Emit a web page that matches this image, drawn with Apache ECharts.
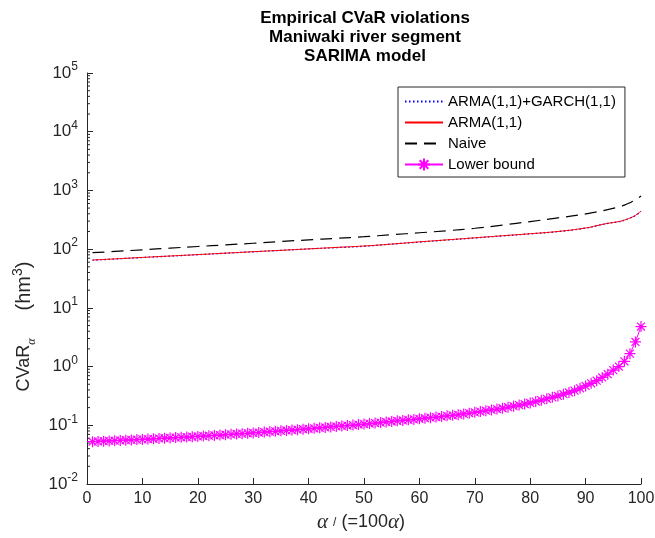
<!DOCTYPE html>
<html>
<head>
<meta charset="utf-8">
<script src="https://cdn.jsdelivr.net/npm/echarts@6/dist/echarts.min.js"></script>
<style>
html, body { margin: 0; padding: 0; background: #fff; }
#chart { width: 655px; height: 538px; }
</style>
</head>
<body>
<div id="chart"></div>
<script>
// alpha' = 100*alpha, one marker per step for the lower bound
const alphaLB = Array.from({length: 100}, (_, i) => i + 1)
const lowerBound = [
  0.0525, 0.0530, 0.0536, 0.0541, 0.0547, 0.0552, 0.0558, 0.0564, 0.0570, 0.0575,
  0.0582, 0.0589, 0.0596, 0.0603, 0.0610, 0.0617, 0.0624, 0.0631, 0.0638, 0.0646,
  0.0655, 0.0664, 0.0673, 0.0682, 0.0692, 0.0701, 0.0711, 0.0721, 0.0731, 0.0741,
  0.0753, 0.0766, 0.0778, 0.0791, 0.0804, 0.0817, 0.0830, 0.0843, 0.0857, 0.0871,
  0.0887, 0.0904, 0.0920, 0.0938, 0.0955, 0.0973, 0.0991, 0.101, 0.103, 0.105,
  0.107, 0.109, 0.111, 0.114, 0.116, 0.119, 0.121, 0.124, 0.126, 0.129,
  0.132, 0.135, 0.138, 0.141, 0.145, 0.148, 0.151, 0.156, 0.161, 0.166,
  0.171, 0.177, 0.183, 0.189, 0.195, 0.203, 0.212, 0.221, 0.230, 0.240,
  0.254, 0.268, 0.283, 0.299, 0.316, 0.339, 0.363, 0.389, 0.427, 0.468,
  0.519, 0.575, 0.653, 0.741, 0.871, 1.00, 1.23, 1.66, 2.63, 4.80
]

// smooth curves, read at these alpha' values
const alphaCurve = [1, 5, 10, 15, 20, 25, 30, 35, 40, 45, 50, 55, 60, 65, 70, 75, 80, 85, 90, 92, 94, 96, 97, 98, 99, 100]
const armaGarch = [64.8, 67.9, 72.0, 76.1, 80.5, 85.2, 90.1, 95.3, 101, 106, 112, 122, 132, 143, 155, 168, 182, 199, 228, 250, 274, 294, 312, 338, 374, 440]
const arma = [65.3, 68.2, 72.3, 76.4, 80.7, 85.5, 90.4, 95.5, 101, 107, 113, 122, 133, 144, 156, 169, 183, 200, 229, 251, 275, 295, 313, 339, 376, 447]
const naive = [86.9, 91.4, 97.5, 104, 111, 118, 126, 135, 144, 153, 163, 176, 190, 206, 227, 257, 295, 340, 398, 432, 470, 525, 562, 617, 692, 803]

const seriesNames = ['ARMA(1,1)+GARCH(1,1)', 'ARMA(1,1)', 'Naive', 'Lower bound']

const pair = (xs, ys) => xs.map((x, i) => [x, ys[i]])
const axisColor = '#262626'
const starPath = 'path://M0,-1L0,1M-1,0L1,0M-0.72,-0.72L0.72,0.72M-0.72,0.72L0.72,-0.72'

const chart = echarts.init(document.getElementById('chart'))
chart.setOption({
  backgroundColor: '#fff',
  animation: false,
  textStyle: { fontFamily: 'Liberation Sans, Arial, sans-serif' },
  title: {
    text: 'Empirical CVaR violations\nManiwaki river segment\nSARIMA model',
    left: 360,
    top: 4,
    textAlign: 'center',
    textStyle: { fontSize: 17, fontWeight: 'bold', color: '#000', lineHeight: 19 }
  },
  grid: { left: 87, top: 73, right: 14, bottom: 54, outerBoundsMode: 'none' },
  legend: {
    orient: 'vertical',
    left: 398,
    top: 87,
    padding: [7, 9, 5, 6],
    itemWidth: 38,
    itemHeight: 15,
    itemGap: 6,
    borderColor: axisColor,
    borderWidth: 1,
    backgroundColor: '#fff',
    textStyle: { fontSize: 15, color: '#000' },
    data: seriesNames
  },
  xAxis: {
    type: 'value',
    min: 0,
    max: 100,
    interval: 10,
    name: '{a|α}{t| }{sl|/}{t| (=100}{a|α}{t|)}',
    nameLocation: 'middle',
    nameGap: 27,
    nameTextStyle: {
      padding: [0, 6, 0, 0],
      rich: {
        t: { fontSize: 18, color: axisColor },
        a: { fontSize: 21, fontFamily: 'Liberation Serif', fontStyle: 'italic', color: axisColor },
        sl: { fontSize: 12, color: axisColor }
      }
    },
    axisLine: { show: true, lineStyle: { color: axisColor, width: 1 } },
    axisTick: { show: true, inside: true, length: 6, lineStyle: { color: axisColor } },
    axisLabel: { fontSize: 16, color: axisColor, margin: 7, showMinLabel: true, showMaxLabel: true },
    splitLine: { show: false }
  },
  yAxis: {
    type: 'log',
    logBase: 10,
    min: 0.01,
    max: 100000,
    splitNumber: 7,
    name: '{t|CVaR}{sub|α}{sp| }{u|(hm}{sup|3}{u|)}',
    nameLocation: 'middle',
    nameGap: 48,
    nameRotate: 90,
    nameTextStyle: {
      padding: [0, 96, 0, 0],
      rich: {
        t: { fontSize: 18, color: axisColor, lineHeight: 26 },
        u: { fontSize: 20, color: axisColor, lineHeight: 26 },
        sp: { width: 28 },
        sub: { fontSize: 12, fontFamily: 'Liberation Serif', fontStyle: 'italic', color: axisColor, verticalAlign: 'bottom', lineHeight: 14 },
        sup: { fontSize: 14, color: axisColor, verticalAlign: 'top', lineHeight: 14 }
      }
    },
    axisLine: { show: true, lineStyle: { color: axisColor, width: 1 } },
    axisTick: { show: true, inside: true, length: 6, lineStyle: { color: axisColor } },
    axisLabel: {
      margin: 9,
      showMinLabel: true,
      showMaxLabel: true,
      formatter: function (v) {
        const e = Math.round(Math.log10(v))
        return '{b|10}{s|' + e + '}'
      },
      rich: {
        b: { fontSize: 17, color: axisColor, lineHeight: 24 },
        s: { fontSize: 12, color: axisColor, verticalAlign: 'top', lineHeight: 14 }
      }
    },
    splitLine: { show: false }
  },
  series: [
    {
      name: seriesNames[0],
      type: 'line',
      data: pair(alphaCurve, armaGarch),
      symbol: 'none',
      smooth: true,
      color: '#0000ff',
      itemStyle: { opacity: 0 },
      lineStyle: { color: '#0000ff', width: 1.3, type: [1.5, 2.5] }
    },
    {
      name: seriesNames[1],
      type: 'line',
      data: pair(alphaCurve, arma),
      symbol: 'none',
      smooth: true,
      color: '#ff0000',
      itemStyle: { opacity: 0 },
      lineStyle: { color: '#ff0000', width: 1 }
    },
    {
      name: seriesNames[2],
      type: 'line',
      data: pair(alphaCurve, naive),
      symbol: 'none',
      smooth: true,
      color: '#000000',
      itemStyle: { opacity: 0 },
      lineStyle: { color: '#000000', width: 1.2, type: [12, 7] }
    },
    {
      name: seriesNames[3],
      type: 'line',
      data: pair(alphaLB, lowerBound),
      symbol: starPath,
      symbolSize: 11,
      showAllSymbol: true,
      color: '#ff00ff',
      itemStyle: { color: '#ff00ff', borderColor: '#ff00ff', borderWidth: 1.2 },
      lineStyle: { color: '#ff00ff', width: 1 }
    }
  ]
})

// MATLAB-style log minor ticks (2..9 in each decade), pointing into the plot
const minorTicks = []
const x0 = chart.convertToPixel({ xAxisIndex: 0 }, 0)
for (let n = -2; n < 5; n++) {
  for (let k = 2; k <= 9; k++) {
    const y = chart.convertToPixel({ yAxisIndex: 0 }, k * Math.pow(10, n))
    minorTicks.push({
      type: 'line',
      shape: { x1: x0, y1: y, x2: x0 + 3, y2: y },
      style: { stroke: axisColor, lineWidth: 1 },
      silent: true
    })
  }
}
chart.setOption({ graphic: minorTicks })
</script>
</body>
</html>
